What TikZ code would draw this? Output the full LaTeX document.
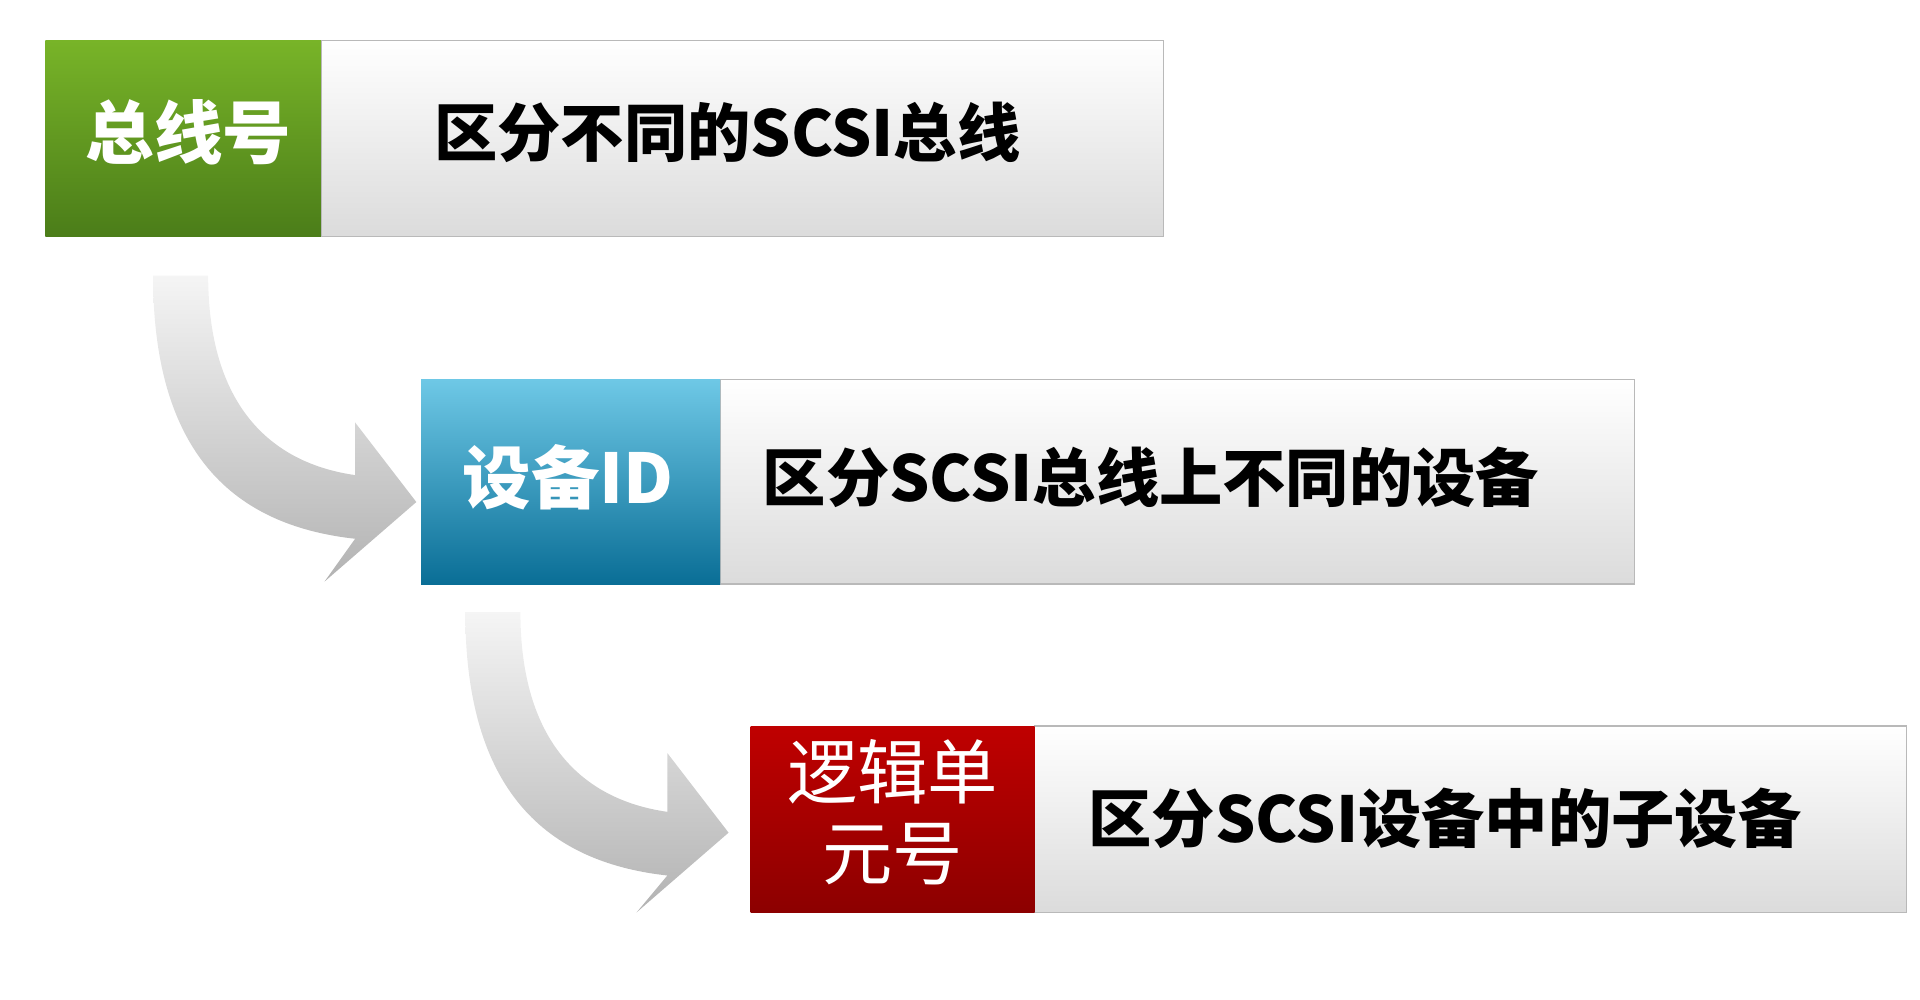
\documentclass[tikz,border=0pt]{standalone}
\usepackage{fontspec}
\setmainfont{Noto Sans CJK SC}
\usetikzlibrary{positioning}
\definecolor{busgreen}{RGB}{120,180,40}
\definecolor{busgreendk}{RGB}{75,125,25}
\definecolor{devblue}{RGB}{110,200,230}
\definecolor{devbluedk}{RGB}{10,110,150}
\tikzset{
    body/.style={top color=white, bottom color=gray!28, draw=gray!55},
    lblgreen/.style={top color=busgreen, bottom color=busgreendk},
    lblblue/.style={top color=devblue, bottom color=devbluedk},
    lblred/.style={top color=red!75!black, bottom color=red!55!black},
    lbltext/.style={text=white, font=\bfseries\fontsize{19.5}{22}\selectfont},
    bodytext/.style={font=\bfseries\fontsize{18}{20}\selectfont},
    flow/.style={top color=gray!8, bottom color=gray!60, draw=none}
}
\begin{document}
\begin{tikzpicture}[x=0.012245cm, y=-0.012245cm]
    \useasboundingbox (0,0) rectangle (1568,816);

    % Curved arrows
    \path[flow] (125,225) .. controls (125,380) and (200,430) .. (290,440)
        -- (265,475) -- (340,410) -- (290,345)
        -- (290,388) .. controls (220,378) and (170,330) .. (170,225) -- cycle;
    \path[flow] (380,500) .. controls (380,655) and (455,705) .. (545,715)
        -- (520,745) -- (595,680) -- (545,615)
        -- (545,663) .. controls (475,653) and (425,605) .. (425,500) -- cycle;

    % Row 1
    \path[body] (262,33) rectangle (950,193);
    \path[lblgreen] (37,33) rectangle (262,193);
    \node[lbltext] (bus) at (154,108) {总线号};
    \node[bodytext] (busdesc) at (594,108) {区分不同的SCSI总线};

    % Row 2
    \path[body] (588,310) rectangle (1335,477);
    \path[lblblue] (344,310) rectangle (588,477);
    \node[lbltext] (dev) at (464,390) {设备ID};
    \node[bodytext] (devdesc) at (940,390) {区分SCSI总线上不同的设备};

    % Row 3
    \path[body] (845,593) rectangle (1557,745);
    \path[lblred] (613,593) rectangle (845,745);
    \node[text=white, align=center, font=\fontsize{20}{23}\selectfont] (lun) at (729,663) {逻辑单\\元号};
    \node[bodytext] (lundesc) at (1180,668) {区分SCSI设备中的子设备};
\end{tikzpicture}
\end{document}
